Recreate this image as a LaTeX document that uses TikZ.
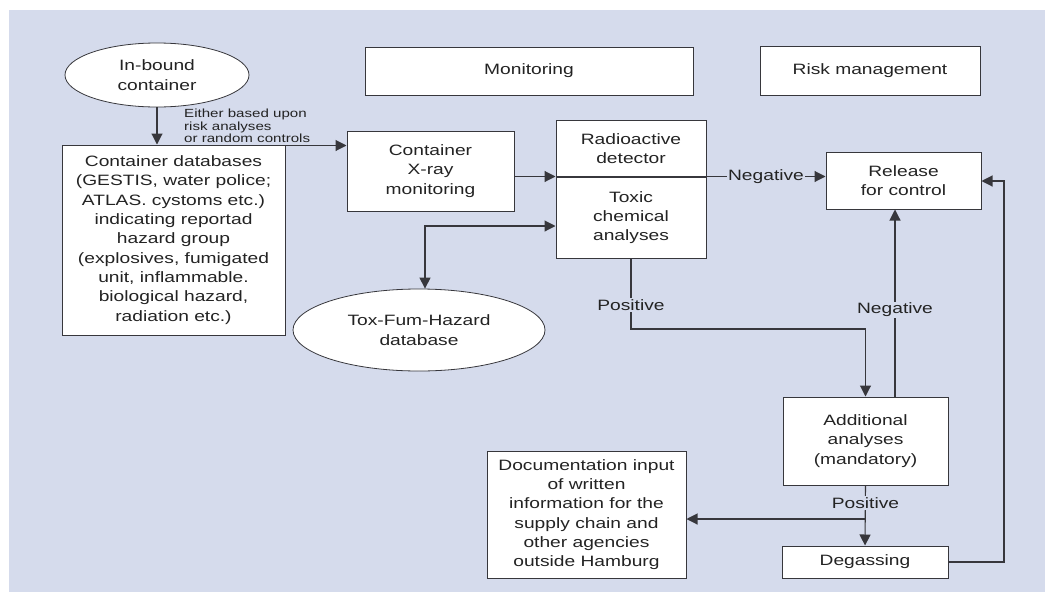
\documentclass[tikz,border=0pt]{standalone}
\usepackage{fontspec}
\setmainfont{Liberation Sans}[FakeStretch=1.28]
\usetikzlibrary{arrows.meta,shapes.geometric}
\definecolor{bg}{RGB}{213,219,236}
\definecolor{ln}{RGB}{55,55,60}
\definecolor{tx}{RGB}{35,35,35}
\begin{document}
\begin{tikzpicture}[x=1pt,y=-1pt,
  box/.style={draw=ln,line width=1pt,fill=white,inner sep=0pt,align=center,text=tx,font=\fontsize{15}{19.3}\selectfont},
  oval/.style={ellipse,draw=ln,line width=0.8pt,fill=white,inner sep=0pt,align=center,text=tx,font=\fontsize{15}{19.3}\selectfont},
  arr/.style={draw=ln,line width=1.1pt,-{Triangle[length=11pt,width=11pt]}},
  arrboth/.style={draw=ln,line width=1.1pt,{Triangle[length=11pt,width=11pt]}-{Triangle[length=11pt,width=11pt]}},
  lbl/.style={fill=bg,inner sep=1pt,text=tx,font=\fontsize{15}{19.3}\selectfont},
  small/.style={text=tx,align=left,inner sep=0pt,font=\fontsize{11.8}{12.5}\selectfont}
]
\useasboundingbox (0,0) rectangle (1045,592);
\fill[bg] (9,10) rectangle (1045,592);

\node[oval,minimum width=184pt,minimum height=64pt] (inb) at (157,75) {In-bound\\container};
\node[box,minimum width=223pt,minimum height=190pt] (db) at (173.5,240) {Container databases\\(GESTIS, water police;\\ATLAS. cystoms etc.)\\indicating reportad\\hazard group\\(explosives, fumigated\\unit, inflammable.\\biological hazard,\\radiation etc.)};
\node[box,minimum width=167pt,minimum height=80pt] (xray) at (430.5,171) {Container\\X-ray\\monitoring};
\node[box,minimum width=328pt,minimum height=48pt] (mon) at (529,71) {Monitoring};
\node[box,minimum width=220pt,minimum height=49pt] (risk) at (870,70.5) {Risk management};
\node[box,minimum width=150pt,minimum height=57pt] (rad) at (631,148.5) {Radioactive\\detector};
\node[box,minimum width=150pt,minimum height=81pt] (tox) at (631,217.5) {Toxic\\chemical\\analyses};
\node[box,minimum width=155pt,minimum height=57pt] (rel) at (903.5,180.5) {Release\\for control};
\node[oval,minimum width=252pt,minimum height=82pt] (tfh) at (419,330) {Tox-Fum-Hazard\\database};
\node[box,minimum width=165pt,minimum height=88pt] (add) at (865.5,441) {Additional\\analyses\\(mandatory)};
\node[box,minimum width=166pt,minimum height=32pt] (deg) at (865,562) {Degassing};
\node[box,minimum width=199pt,minimum height=127pt] (doc) at (586.5,514.5) {Documentation input\\of written\\information for the\\supply chain and\\other agencies\\outside Hamburg};

\node[small,anchor=west] (either) at (184,126) {Either based upon\\risk analyses\\or random controls};

\coordinate (dA) at (425,226);
\coordinate (pA) at (632,329);
\coordinate (nA) at (895,300);
\coordinate (qA) at (865.5,519);
\coordinate (rA) at (1004,181);

\draw[arr] (inb.south) -- (inb.south |- db.north);
\draw[arr] ([yshift=-1pt]db.north east) -- ([yshift=-1pt]db.north east -| xray.west);
\draw[arr] (xray.east |- tox.north) -- (tox.north west);
\draw[arr] (tox.north west) -- (tox.north west -| rel.west);
\draw[arrboth] (dA |- tfh.north) -- (dA) -- (dA -| tox.west);
\draw[arr] (tox.south) -- (tox.south |- pA) -| (add.north);
\draw[arr] (nA |- add.north) -- (nA |- rel.south);
\draw[arr] (add.south) -- (deg.north);
\draw[arr] (qA) -- (qA -| doc.east);
\draw[arr] (deg.east) -| (rA) -- (rA -| rel.east);

\node[lbl] (neg1) at (766,177) {Negative};
\node[lbl] (pos1) at (631,305) {Positive};
\node[lbl] (neg2) at (895,310) {Negative};
\node[lbl] (pos2) at (865.5,503) {Positive};
\end{tikzpicture}
\end{document}
